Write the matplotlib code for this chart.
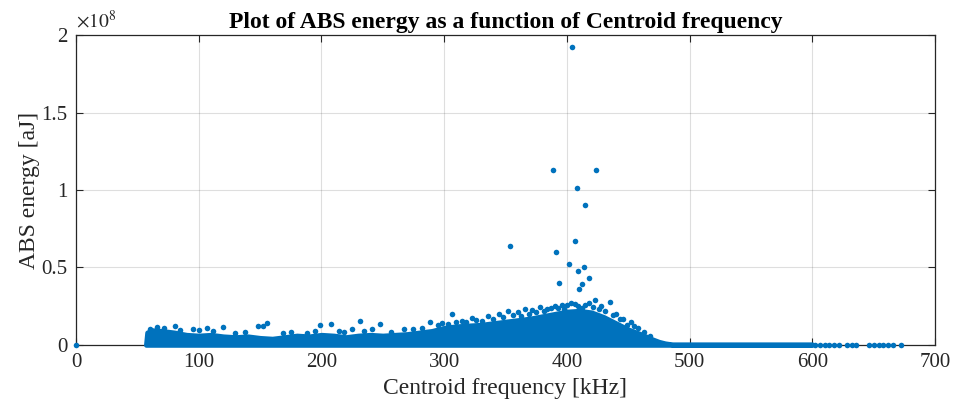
import numpy as np
import matplotlib
matplotlib.use("Agg")
import matplotlib.pyplot as plt
from matplotlib.ticker import FuncFormatter

plt.rcParams['font.family'] = ['Liberation Serif', 'DejaVu Serif']
plt.rcParams['mathtext.fontset'] = 'stix'

# dense core of hits: upper envelope (kHz, aJ x1e6)
band_freq = [57, 58, 62, 70, 80, 90, 100, 110, 120, 130, 140, 150, 160, 170,
             180, 190, 200, 210, 220, 230, 240, 250, 260, 270, 280, 290, 300,
             310, 320, 330, 340, 350, 360, 370, 380, 390, 400, 410, 420, 430,
             440, 450, 460, 470, 475, 480, 486, 600]
band_top = [0, 8, 9.5, 9, 8, 6.5, 6, 6.5, 5.5, 5, 5.5, 4.5, 4, 5,
            6, 5.5, 6.5, 6, 5, 6, 6.5, 6, 6.5, 7, 8, 9, 11,
            12, 12.5, 13, 14, 15, 16, 17, 18.5, 20, 21.5, 22, 21, 18,
            14, 10, 7, 3.5, 2, 1, 0.3, 0.3]

# isolated hits just above the core
spread_freq = [60, 65.8, 72, 80.7, 85, 95.6, 100, 106.4, 112, 120, 129.6, 138,
               148.6, 152, 155.9, 169, 175, 188, 195, 199, 208, 214.6, 218,
               224.7, 231.5, 235, 241, 248, 257, 267, 275, 282, 288.5, 295,
               306.2, 314.3, 322.4, 336, 345, 352, 360, 366, 372, 378, 384,
               390, 396, 400, 406.7, 412, 418, 423, 428, 435, 440, 446, 452,
               458, 463,
               298, 303, 310, 318, 326, 331, 340, 348, 356, 363, 369, 375,
               381, 387, 393, 398, 403, 409, 415, 421, 426, 431, 438, 443,
               449, 455, 468]
spread_energy = [10.5, 11.8, 11, 12.3, 9.5, 10.1, 9.6, 10.7, 9, 11.8, 7.5, 8.5,
                 12.3, 12.3, 14.4, 7.5, 8.2, 7.5, 9, 12.9, 13.5, 9.2, 8.5,
                 10.1, 15.7, 9, 10.1, 13.5, 8.5, 10.1, 10, 11, 15, 12.5,
                 19.8, 15.7, 17.2, 18.7, 20, 22, 21, 23, 22.5, 24.5, 23,
                 25, 26, 25.8, 26.5, 24, 27, 29, 25, 27.7, 20, 17, 15,
                 11, 8.5,
                 14, 13.5, 15, 14.5, 16, 15.5, 17, 18, 19, 18.5, 20, 21,
                 22, 23.5, 24, 23, 27, 25, 26, 24.5, 23, 22, 19, 16.5,
                 13, 12, 6]

# high-energy outliers
outlier_freq = [404, 388.5, 424, 408, 415, 354, 407, 391, 402, 409, 414, 418,
                412, 394, 410]
outlier_energy = [192, 113, 113, 101, 90, 64, 67, 60, 52, 48, 50, 43,
                  39, 40, 36]

# zero-energy hits at the high-frequency end, plus the one at origin
tail_freq = [0, 602, 606, 610, 614, 618, 622, 628, 632, 636, 646, 650, 654,
             658, 662, 666, 672]

blue = (0, 0.447, 0.741)
scale = 1e6
dot = 16

fig = plt.figure(figsize=(9.56, 4.13), dpi=100)
ax = fig.add_axes([0.0795, 0.165, 0.8985, 0.75])

bf = np.array(band_freq)
bt = np.array(band_top) * scale
ax.fill_between(bf, 0, bt, color=blue, lw=3.5, edgecolor=blue,
                clip_on=False, zorder=3)
ax.scatter(spread_freq, np.array(spread_energy) * scale, s=dot, color=blue,
           lw=0, zorder=3)
ax.scatter(outlier_freq, np.array(outlier_energy) * scale, s=dot, color=blue,
           lw=0, zorder=3)
ax.scatter(tail_freq, np.zeros(len(tail_freq)), s=dot, color=blue, lw=0,
           clip_on=False, zorder=3)

ax.set_xlim(0, 700)
ax.set_ylim(0, 2e8)
ax.set_xticks(np.arange(0, 701, 100))
ax.set_yticks(np.arange(0, 2.01e8, 0.5e8))
ax.yaxis.set_major_formatter(FuncFormatter(lambda v, p: '%g' % (v / 1e8)))
ax.text(0, 1.012, r'$\times10^{8}$', transform=ax.transAxes, fontsize=14,
        color='0.15', ha='left', va='bottom')

ax.grid(True, color='0.15', alpha=0.15, lw=0.8)
ax.set_axisbelow(True)
for s in ax.spines.values():
    s.set_color('0.15')
    s.set_linewidth(0.9)
    s.set_zorder(2)
ax.tick_params(direction='in', top=True, right=True, length=5,
               labelsize=15, colors='0.15', pad=6)

ax.set_title('Plot of ABS energy as a function of Centroid frequency',
             fontsize=17, fontweight='bold', pad=5)
ax.set_xlabel('Centroid frequency [kHz]', fontsize=17, color='0.15')
ax.set_ylabel('ABS energy [aJ]', fontsize=17, color='0.15', labelpad=1)

fig.savefig('out.png', dpi=100)
